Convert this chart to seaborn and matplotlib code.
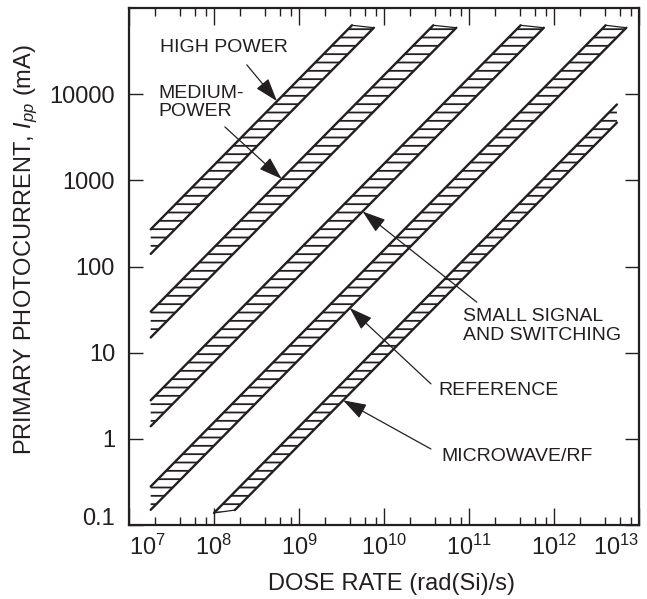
import matplotlib
matplotlib.use("Agg")
import matplotlib.pyplot as plt
from matplotlib.ticker import FixedLocator, NullLocator, LogLocator
import pandas as pd
import seaborn as sns

# ---- data: photocurrent bands (dose rate in rad(Si)/s, current in mA) ----
bands = ["HIGH POWER", "MEDIUM-POWER", "SMALL SIGNAL AND SWITCHING",
         "REFERENCE", "MICROWAVE/RF"]
upper_dose_start = [1.8e7, 1.8e7, 1.8e7, 1.8e7, 1.0e8]
upper_ipp_start = [270, 30, 2.8, 0.28, 0.138]
upper_dose_end = [4.2e9, 3.8e10, 4.05e11, 4.05e12, 5.5e12]
upper_ipp_end = [63000, 63000, 63000, 63000, 7600]
lower_dose_start = [1.8e7, 1.8e7, 1.8e7, 1.8e7, 1.76e8]
lower_ipp_start = [140, 15, 1.4, 0.15, 0.149]
lower_dose_end = [7.6e9, 7.1e10, 7.6e11, 7.1e12, 5.5e12]
lower_ipp_end = [59000, 59000, 59000, 59000, 4670]
cap_at_start = [False, False, False, False, True]
cap_at_end = [True, True, True, True, False]

x_ticks = [1e7, 1e8, 1e9, 1e10, 1e11, 1e12, 1e13]
x_tick_labels = [r"$\mathregular{10^{%d}}$" % e for e in range(7, 14)]
y_ticks = [0.1, 1, 10, 100, 1000, 10000]
y_tick_labels = ["0.1", "1", "10", "100", "1000", "10000"]

INK = "#231f20"

sns.set_style("ticks")
plt.rcParams["font.family"] = ["Liberation Sans", "DejaVu Sans"]
plt.rcParams["mathtext.fontset"] = "custom"
plt.rcParams["mathtext.rm"] = "Liberation Sans"
plt.rcParams["mathtext.it"] = "Liberation Sans:italic"
plt.rcParams["mathtext.bf"] = "Liberation Sans:bold"
plt.rcParams["hatch.linewidth"] = 1.3
plt.rcParams["hatch.color"] = INK
plt.rcParams["text.color"] = INK
plt.rcParams["axes.labelcolor"] = INK
plt.rcParams["xtick.color"] = INK
plt.rcParams["ytick.color"] = INK

fig = plt.figure(figsize=(6.47, 5.99), dpi=100)
ax = fig.add_axes([129 / 647, 1 - 525 / 599, 510 / 647, 517 / 599])
ax.set_xscale("log")
ax.set_yscale("log")
ax.set_xlim(1e7, 1e13)
ax.set_ylim(0.1, 1e5)

# hatched band interiors
for i in range(len(bands)):
    xs = [upper_dose_start[i], upper_dose_end[i], lower_dose_end[i], lower_dose_start[i]]
    ys = [upper_ipp_start[i], upper_ipp_end[i], lower_ipp_end[i], lower_ipp_start[i]]
    ax.fill(xs, ys, facecolor="white", edgecolor=INK, hatch="--",
            linewidth=0, zorder=2)

# band boundary lines and end caps
edge_rows, cap_rows = [], []
for i, name in enumerate(bands):
    edge_rows += [
        dict(seg=f"{i}u", dose=upper_dose_start[i], ipp=upper_ipp_start[i]),
        dict(seg=f"{i}u", dose=upper_dose_end[i], ipp=upper_ipp_end[i]),
        dict(seg=f"{i}l", dose=lower_dose_start[i], ipp=lower_ipp_start[i]),
        dict(seg=f"{i}l", dose=lower_dose_end[i], ipp=lower_ipp_end[i]),
    ]
    if cap_at_start[i]:
        cap_rows += [dict(seg=f"{i}s", dose=upper_dose_start[i], ipp=upper_ipp_start[i]),
                     dict(seg=f"{i}s", dose=lower_dose_start[i], ipp=lower_ipp_start[i])]
    if cap_at_end[i]:
        cap_rows += [dict(seg=f"{i}e", dose=upper_dose_end[i], ipp=upper_ipp_end[i]),
                     dict(seg=f"{i}e", dose=lower_dose_end[i], ipp=lower_ipp_end[i])]
edges = pd.DataFrame(edge_rows)
caps = pd.DataFrame(cap_rows)
sns.lineplot(data=edges, x="dose", y="ipp", units="seg", estimator=None,
             sort=False, color=INK, linewidth=1.7, ax=ax, zorder=3)
sns.lineplot(data=caps, x="dose", y="ipp", units="seg", estimator=None,
             sort=False, color=INK, linewidth=0.9, ax=ax, zorder=3)

# callout labels with arrows
arrow_kw = dict(arrowstyle="-|>,head_length=0.6,head_width=0.2",
                mutation_scale=24, color=INK, lw=0.9,
                shrinkA=0, shrinkB=0)
label_font = 14
callouts = [
    ("HIGH POWER", (0.061, 0.923), (0.231, 0.890), (5.5e8, 8300)),
    ("MEDIUM-\nPOWER", (0.057, 0.817), (0.188, 0.770), (6.25e8, 1040)),
    ("SMALL SIGNAL\nAND SWITCHING", (0.655, 0.385), (0.682, 0.431), (5.6e9, 435)),
    ("REFERENCE", (0.606, 0.261), (0.592, 0.273), (3.95e9, 33)),
    ("MICROWAVE/RF", (0.612, 0.132), (0.592, 0.147), (3.3e9, 2.8)),
]
for text, txt_pos, tail, tip in callouts:
    ax.text(*txt_pos, text, transform=ax.transAxes, ha="left", va="center",
            fontsize=label_font, linespacing=1.1, zorder=5)
    ax.annotate("", xy=tip, xycoords="data", xytext=tail,
                textcoords="axes fraction", arrowprops=arrow_kw, zorder=4)

# axes, ticks and labels
ax.xaxis.set_major_locator(FixedLocator(x_ticks))
ax.xaxis.set_minor_locator(LogLocator(base=10, subs=[2, 4, 6, 8], numticks=20))
ax.set_xticklabels(x_tick_labels)
ax.yaxis.set_major_locator(FixedLocator(y_ticks))
ax.yaxis.set_minor_locator(NullLocator())
ax.set_yticklabels(y_tick_labels)
ax.set_xlim(1e7, 1e13)
ax.set_ylim(0.1, 1e5)

ax.tick_params(which="both", direction="in", top=True, right=True,
               colors=INK, labelsize=17)
ax.tick_params(axis="x", which="major", length=12, width=1.0, pad=7)
ax.tick_params(axis="x", which="minor", length=6, width=1.0)
ax.tick_params(axis="y", which="major", length=10, width=1.0, pad=10)

xl = ax.get_xticklabels()
xl[0].set_ha("left")
xl[-1].set_ha("right")
ax.get_yticklabels()[0].set_va("baseline")

for s in ax.spines.values():
    s.set_color(INK)
    s.set_linewidth(1.6)
    s.set_visible(True)

ax.set_xlabel("DOSE RATE (rad(Si)/s)", fontsize=17)
ax.set_ylabel(r"PRIMARY PHOTOCURRENT, $I_{pp}$ (mA)", fontsize=17)
ax.xaxis.set_label_coords(0.515, -0.093)
ax.yaxis.label.set_va("bottom")
ax.yaxis.set_label_coords(-0.175, 0.532)
ax.xaxis.label.set_va("top")

fig.savefig("out.png", dpi=100, facecolor="white")
